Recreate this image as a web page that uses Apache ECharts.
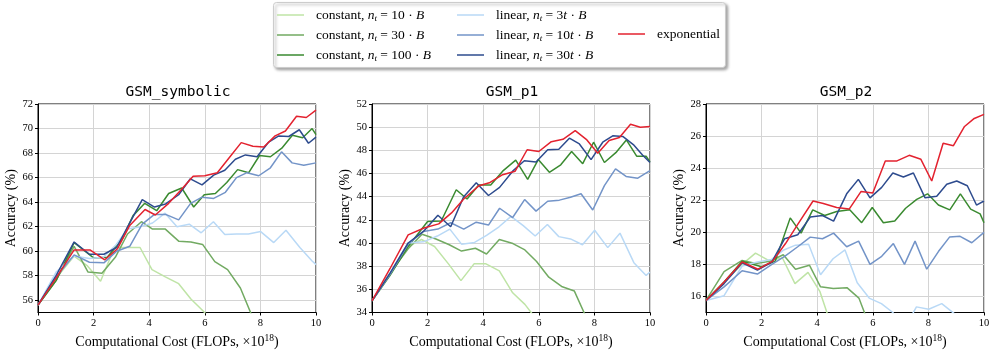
<!DOCTYPE html>
<html>
<head>
<meta charset="utf-8">
<script src="https://cdn.jsdelivr.net/npm/echarts@6/dist/echarts.min.js"></script>
<style>
html,body{margin:0;padding:0;background:#fff;}
#chart{width:996px;height:354px;}
</style>
</head>
<body>
<div id="chart"></div>
<script>
// ---- x positions (FLOPs, x1e18) of each schedule's checkpoints ----
const X_C10  = [0, 0.65, 1.3, 1.78, 2.25, 2.75, 3.2, 3.67, 4.1, 4.58, 5.06, 5.5, 5.95, 6.4];
const X_C30  = [0, 0.65, 1.3, 1.8, 2.3, 2.78, 3.22, 3.72, 4.12, 4.58, 5.07, 5.5, 5.92, 6.36, 6.82, 7.28, 7.72, 8.15];
const X_C100 = [0, 0.65, 1.3, 2.0, 2.49, 3.03, 3.42, 3.84, 4.27, 4.7, 5.17, 5.6, 5.98, 6.38, 6.79, 7.18, 7.58, 7.97, 8.36, 8.77, 9.15, 9.52, 9.86, 10];
const X_L3   = [0, 0.65, 1.3, 1.85, 2.35, 2.8, 3.22, 3.69, 4.12, 4.57, 5.0, 5.44, 5.87, 6.31, 6.72, 7.14, 7.57, 8.01, 8.48, 8.92, 9.42, 9.86, 10];
const X_L10  = [0, 0.65, 1.3, 1.85, 2.37, 2.83, 3.3, 3.75, 4.19, 4.59, 5.06, 5.49, 5.9, 6.32, 6.74, 7.14, 7.52, 7.94, 8.36, 8.76, 9.14, 9.56, 10];
const X_L30  = [0, 0.65, 1.3, 1.85, 2.37, 2.83, 3.3, 3.75, 4.19, 4.59, 5.06, 5.48, 5.9, 6.32, 6.72, 7.1, 7.46, 7.88, 8.3, 8.66, 9.02, 9.4, 9.73, 10];
const X_EXP  = [0, 0.65, 1.3, 1.87, 2.4, 2.86, 3.3, 3.85, 4.22, 4.7, 5.15, 5.58, 6.0, 6.45, 6.87, 7.31, 7.73, 8.12, 8.53, 8.9, 9.3, 9.65, 10];

// ---- GSM_symbolic accuracy (%) ----
const SYM_C10  = [55.6, 57.8, 59.6, 58.8, 57.55, 60.3, 60.3, 60.3, 58.5, 57.9, 57.35, 56.1, 55.1, 54.0];
const SYM_C30  = [55.6, 57.6, 60.4, 58.3, 58.2, 59.5, 61.4, 62.4, 61.8, 61.8, 60.8, 60.75, 60.55, 59.15, 58.5, 57.0, 54.6];
const SYM_C100 = [55.6, 57.6, 60.7, 59.45, 59.5, 61.0, 62.9, 63.9, 63.3, 64.7, 65.15, 63.6, 64.6, 64.7, 65.6, 66.65, 66.4, 67.8, 67.7, 68.4, 69.45, 69.25, 70.0, 69.5];
const SYM_L3   = [55.6, 58.3, 59.6, 59.4, 59.5, 60.5, 61.8, 62.0, 62.3, 63.1, 62.0, 62.2, 61.5, 62.4, 61.35, 61.4, 61.4, 61.6, 60.7, 61.7, 60.3, 59.2, 58.9];
const SYM_L10  = [55.6, 57.9, 59.7, 59.1, 59.05, 60.0, 60.4, 62.2, 63.0, 63.0, 62.55, 63.9, 64.4, 64.3, 64.8, 66.0, 66.4, 66.15, 66.8, 68.1, 67.2, 67.0, 67.2];
const SYM_L30  = [55.6, 58.0, 60.75, 59.75, 59.75, 60.3, 62.3, 64.2, 63.6, 63.85, 64.6, 65.9, 65.4, 66.2, 66.6, 67.5, 67.85, 67.7, 68.9, 69.4, 69.35, 69.9, 68.8, 69.3];
const SYM_EXP  = [55.6, 57.8, 60.1, 60.1, 59.3, 60.2, 62.1, 63.4, 62.95, 63.9, 65.0, 66.1, 66.15, 66.4, 67.6, 68.85, 68.55, 68.5, 69.4, 69.8, 71.0, 70.9, 71.5];

// ---- GSM_p1 accuracy (%) ----
const P1_C10  = [35.0, 37.3, 39.7, 40.3, 39.7, 38.2, 36.75, 38.2, 38.2, 37.6, 35.7, 34.7, 33.3];
const P1_C30  = [35.0, 37.4, 39.5, 40.75, 40.35, 39.85, 39.3, 39.55, 39.05, 40.3, 39.95, 39.4, 38.4, 37.05, 36.25, 35.85, 33.5];
const P1_C100 = [35.0, 37.2, 39.7, 41.85, 41.9, 44.6, 43.8, 45.0, 45.0, 46.2, 47.15, 45.5, 47.2, 46.1, 46.75, 47.9, 46.85, 48.7, 46.95, 47.8, 48.9, 47.5, 47.5, 47.0];
const P1_L3   = [35.0, 37.4, 40.0, 40.1, 40.6, 41.2, 39.9, 40.05, 40.65, 41.4, 42.3, 41.5, 40.6, 41.6, 40.55, 40.35, 39.85, 41.1, 39.6, 40.85, 38.3, 37.2, 37.5];
const P1_L10  = [35.0, 37.3, 39.9, 41.0, 41.2, 41.75, 41.2, 41.8, 41.55, 43.0, 42.2, 43.75, 42.75, 43.6, 43.7, 43.95, 44.25, 42.85, 44.95, 46.4, 45.75, 45.6, 46.25];
const P1_L30  = [35.0, 37.4, 40.0, 41.0, 42.4, 41.4, 44.0, 45.2, 44.1, 44.8, 46.2, 47.1, 47.0, 48.05, 48.1, 49.05, 48.55, 47.2, 48.7, 49.25, 49.2, 48.5, 47.6, 46.95];
const P1_EXP  = [35.0, 37.8, 40.7, 41.3, 41.65, 42.6, 43.8, 44.95, 45.2, 45.9, 46.2, 48.05, 47.9, 48.75, 48.95, 49.7, 48.9, 47.75, 48.85, 49.1, 50.25, 50.0, 50.05];

// ---- GSM_p2 accuracy (%) ----
const P2_C10  = [15.75, 16.9, 18.0, 18.7, 18.25, 18.4, 16.8, 17.5, 16.3, 13.8];
const P2_C30  = [15.75, 17.55, 18.25, 18.05, 18.2, 18.6, 17.7, 17.95, 16.6, 16.5, 16.55, 15.9, 14.0];
const P2_C100 = [15.75, 16.9, 18.2, 17.85, 18.2, 20.9, 19.95, 21.4, 21.05, 21.3, 21.4, 20.6, 21.55, 20.6, 20.7, 21.5, 22.05, 22.4, 21.7, 21.4, 22.4, 21.45, 21.15, 20.6];
const P2_L3   = [15.75, 16.05, 17.9, 18.15, 18.3, 18.9, 19.2, 19.25, 17.35, 18.35, 18.9, 16.85, 15.9, 15.55, 15.0, 14.0, 15.35, 15.2, 15.55, 14.95, 14.0, 13.8, 13.8];
const P2_L10  = [15.75, 16.6, 17.6, 17.4, 18.0, 18.5, 19.1, 19.7, 19.6, 19.95, 19.1, 19.45, 18.0, 18.5, 19.3, 18.0, 19.45, 17.7, 18.8, 19.7, 19.75, 19.35, 20.0];
const P2_L30  = [15.75, 16.8, 18.1, 17.65, 18.15, 19.6, 19.85, 20.95, 21.05, 20.7, 22.4, 23.3, 22.15, 22.8, 23.7, 23.45, 23.7, 22.15, 22.25, 23.0, 23.2, 22.9, 21.7, 21.95];
const P2_EXP  = [15.75, 16.9, 18.15, 17.7, 18.2, 19.3, 20.5, 21.95, 21.8, 21.55, 21.45, 22.55, 22.45, 24.45, 24.45, 24.8, 24.55, 23.2, 25.55, 25.4, 26.6, 27.1, 27.35];

// ---- panels & axes ----
const TITLES = ['GSM_symbolic', 'GSM_p1', 'GSM_p2'];
const Y_MIN = [55, 34, 15];
const Y_MAX = [72, 52, 28];
const Y_TICKS = [
  [56, 58, 60, 62, 64, 66, 68, 70, 72],
  [34, 36, 38, 40, 42, 44, 46, 48, 50, 52],
  [16, 18, 20, 22, 24, 26, 28]
];
const X_TICK_STEP = 2;

const SERIES_KEYS = ['c10', 'c30', 'c100', 'l3', 'l10', 'l30', 'exp'];
const SERIES_X = [X_C10, X_C30, X_C100, X_L3, X_L10, X_L30, X_EXP];
const PANEL_DATA = [
  [SYM_C10, SYM_C30, SYM_C100, SYM_L3, SYM_L10, SYM_L30, SYM_EXP],
  [P1_C10, P1_C30, P1_C100, P1_L3, P1_L10, P1_L30, P1_EXP],
  [P2_C10, P2_C30, P2_C100, P2_L3, P2_L10, P2_L30, P2_EXP]
];
const COLORS = ['#bfe4a6', '#72aa62', '#3a8a30', '#b9d9f6', '#7394c8', '#2d4b8e', '#e3222f'];

const LEGEND_TEXT = {
  c10:  'constant, {it|n}{sub|t}{n| = 10 · }{it|B}',
  c30:  'constant, {it|n}{sub|t}{n| = 30 · }{it|B}',
  c100: 'constant, {it|n}{sub|t}{n| = 100 · }{it|B}',
  l3:   'linear, {it|n}{sub|t}{n| = 3}{it|t}{n| · }{it|B}',
  l10:  'linear, {it|n}{sub|t}{n| = 10}{it|t}{n| · }{it|B}',
  l30:  'linear, {it|n}{sub|t}{n| = 30}{it|t}{n| · }{it|B}',
  exp:  'exponential'
};

const SERIF = '"Liberation Serif", "DejaVu Serif", serif';
const GRID_LEFT = [38, 372, 706];
const GRID_TOP = 104, GRID_W = 278, GRID_H = 209;

const grids = [], xAxes = [], yAxes = [], titles = [], series = [];
for (let p = 0; p < 3; p++) {
  grids.push({left: GRID_LEFT[p], top: GRID_TOP, width: GRID_W, height: GRID_H,
    show: true, borderColor: '#000', borderWidth: 1, backgroundColor: 'transparent'});
  titles.push({text: TITLES[p], left: GRID_LEFT[p] + GRID_W / 2 - 4, top: 80, textAlign: 'center',
    textStyle: {fontFamily: '"DejaVu Sans Mono", monospace', fontSize: 14.5, fontWeight: 'normal', color: '#000'}});
  xAxes.push({type: 'value', gridIndex: p, min: 0, max: 10, interval: X_TICK_STEP,
    name: 'Computational Cost (FLOPs, ×10{sup|18})', nameLocation: 'middle', nameGap: 21,
    nameTextStyle: {fontFamily: SERIF, fontSize: 14, color: '#000',
      rich: {sup: {fontFamily: SERIF, fontSize: 9.5, color: '#000', padding: [0, 0, 7, 0]}}},
    axisLine: {show: true, lineStyle: {color: '#000', width: 1}},
    axisTick: {show: true, length: 3, lineStyle: {color: '#000'}},
    axisLabel: {fontFamily: SERIF, fontSize: 10.5, color: '#000', margin: 5},
    splitLine: {show: true, lineStyle: {color: '#d4d4d4', width: 1}}});
  yAxes.push({type: 'value', gridIndex: p, min: Y_MIN[p], max: Y_MAX[p],
    name: 'Accuracy (%)', nameLocation: 'middle', nameGap: 20,
    nameTextStyle: {fontFamily: SERIF, fontSize: 14, color: '#000'},
    axisLine: {show: true, lineStyle: {color: '#000', width: 1}},
    axisTick: {show: true, length: 3, lineStyle: {color: '#000'}, customValues: Y_TICKS[p]},
    axisLabel: {fontFamily: SERIF, fontSize: 10.5, color: '#000', margin: 5, customValues: Y_TICKS[p]},
    splitLine: {show: true, lineStyle: {color: '#d4d4d4', width: 1}}});
  for (let s = 0; s < SERIES_KEYS.length; s++) {
    const ys = PANEL_DATA[p][s];
    const xs = SERIES_X[s];
    series.push({
      name: SERIES_KEYS[s], type: 'line', xAxisIndex: p, yAxisIndex: p,
      data: ys.map((v, i) => [xs[i], v]),
      symbol: 'none', showSymbol: false, clip: true,
      lineStyle: {color: COLORS[s], width: 1.5}, itemStyle: {color: COLORS[s]},
      z: 2 + s, animation: false
    });
  }
}

const legendRich = {
  n:   {fontFamily: SERIF, fontSize: 13.5, color: '#000'},
  it:  {fontFamily: SERIF, fontSize: 13.5, fontStyle: 'italic', color: '#000'},
  sub: {fontFamily: SERIF, fontSize: 9, fontStyle: 'italic', color: '#000', padding: [7, 0, 0, 0]}
};
function makeLegend(names, left, top) {
  return {data: names, orient: 'vertical', left: left, top: top, padding: 0,
    itemWidth: 27, itemHeight: 14, itemGap: 5,
    icon: 'path://M0,0 L27,0 L27,1.5 L0,1.5 Z',
    formatter: name => LEGEND_TEXT[name],
    textStyle: {fontFamily: SERIF, fontSize: 13.5, color: '#000', padding: [0, 0, 0, 7], rich: legendRich},
    selectedMode: false};
}

const option = {
  animation: false,
  backgroundColor: '#fff',
  title: titles,
  grid: grids, xAxis: xAxes, yAxis: yAxes, series: series,
  legend: [
    makeLegend(['c10', 'c30', 'c100'], 277, 8),
    makeLegend(['l3', 'l10', 'l30'], 457, 8),
    makeLegend(['exp'], 618, 27)
  ],
  graphic: [{type: 'rect', left: 273, top: 2, z: -1,
    shape: {width: 452, height: 65, r: 3},
    style: {fill: '#fff', stroke: '#cccccc', lineWidth: 1, shadowBlur: 3, shadowOffsetX: 2, shadowOffsetY: 2, shadowColor: 'rgba(0,0,0,0.35)'}}]
};

const chart = echarts.init(document.getElementById('chart'), null, {renderer: 'canvas'});
chart.setOption(option);
</script>
</body>
</html>
